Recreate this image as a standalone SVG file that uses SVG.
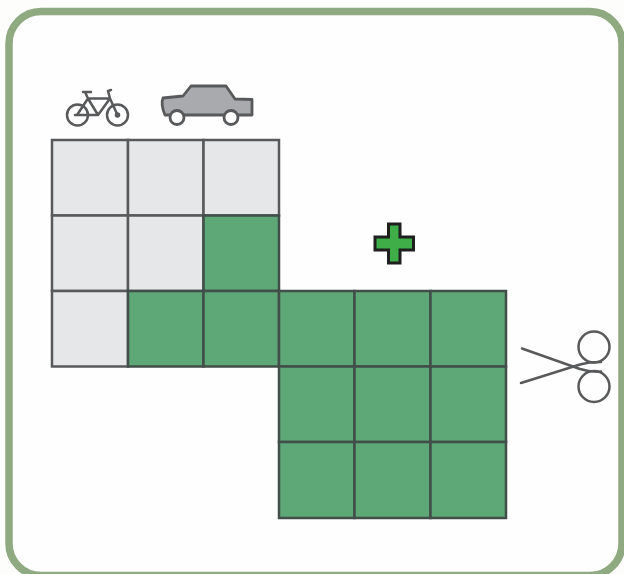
<svg xmlns="http://www.w3.org/2000/svg" width="624" height="574" viewBox="0 0 624 574">
<style>
.g{fill:#e6e7e9;stroke:#58595b;stroke-width:2.5}
.c{fill:#5ea777;stroke:#414e4a;stroke-width:2.5}
.i{fill:none;stroke:#58595b;stroke-linecap:round;stroke-linejoin:round}
</style>
<rect x="0" y="0" width="624" height="574" fill="#fdfefc"/>
<rect id="frame" x="9" y="11.5" width="613" height="564" rx="32" ry="32" fill="#fefefe" stroke="#8fa981" stroke-width="7.5"/>
<g id="grid-grey">
<rect class="g" x="52" y="140" width="76" height="75.500"/>
<rect class="g" x="128" y="140" width="75.500" height="75.500"/>
<rect class="g" x="203.500" y="140" width="75.500" height="75.500"/>
<rect class="g" x="52" y="215.500" width="76" height="75.500"/>
<rect class="g" x="128" y="215.500" width="75.500" height="75.500"/>
<rect class="g" x="52" y="291" width="76" height="75.500"/>
</g>
<g id="grid-green">
<rect class="c" x="203.500" y="215.500" width="75.500" height="75.500"/>
<rect class="c" x="128" y="291" width="75.500" height="75.500"/>
<rect class="c" x="203.500" y="291" width="75.500" height="75.500"/>
<rect class="c" x="279" y="291" width="75.500" height="75.500"/>
<rect class="c" x="354.500" y="291" width="76" height="75.500"/>
<rect class="c" x="430.500" y="291" width="75.500" height="75.500"/>
<rect class="c" x="279" y="366.500" width="75.500" height="75.500"/>
<rect class="c" x="354.500" y="366.500" width="76" height="75.500"/>
<rect class="c" x="430.500" y="366.500" width="75.500" height="75.500"/>
<rect class="c" x="279" y="442" width="75.500" height="76"/>
<rect class="c" x="354.500" y="442" width="76" height="76"/>
<rect class="c" x="430.500" y="442" width="75.500" height="76"/>
</g>
<g id="bicycle" class="i" stroke-width="2.500">
<circle cx="77.500" cy="115" r="10.500"/>
<circle cx="117.500" cy="115" r="10.500"/>
<circle cx="117.500" cy="115" r="1.500"/>
<path d="M77 115H98L110 98.500H88L77 115M88 98.500L98 115M85 92L88 98.500M83 92H91M110 98.500L117.500 115M110 98.500L108 91L111 90M75 115H98"/>
</g>
<g id="car">
<path d="M163 98L183 96L191 86L226 86L235 99L252 99.500L252 115L165 115C162 108 161 103 163 98Z" fill="#a9aaae" stroke="#58595b" stroke-width="2.800" stroke-linejoin="round"/>
<circle cx="177" cy="117.500" r="7" fill="#fefefe" stroke="#58595b" stroke-width="2.800"/>
<circle cx="231" cy="117.500" r="7" fill="#fefefe" stroke="#58595b" stroke-width="2.800"/>
</g>
<g id="plus">
<path d="M388.500 224H400V237H413.500V250H400V263H388.500V250H375V237H388.500Z" fill="#3fae49" stroke="#1f1f1f" stroke-width="3"/>
</g>
<g id="scissors" class="i" stroke-width="2.500">
<circle cx="594" cy="347" r="15.500"/>
<circle cx="594" cy="386.500" r="15.500"/>
<path d="M522 348.500L580 369C588 371.500 595 372 601 371.500"/>
<path d="M521 383L580 364.500C586 362.800 593 362 601 362"/>
</g>
</svg>
